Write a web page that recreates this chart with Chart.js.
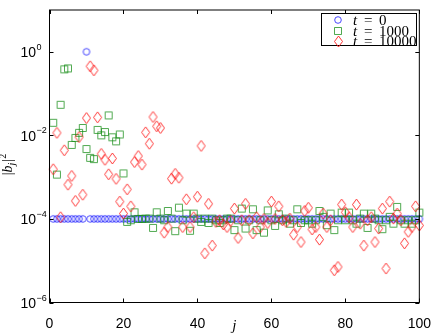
<!DOCTYPE html>
<html>
<head>
<meta charset="utf-8">
<script src="https://cdn.jsdelivr.net/npm/chart.js@4.4.1/dist/chart.umd.min.js"></script>
<style>
  html, body { margin: 0; padding: 0; background: #fff; }
  #wrap { width: 436px; height: 336px; }
</style>
</head>
<body>
<div id="wrap"><canvas id="chart" width="436" height="336"></canvas></div>
<script>
// mode index j
const jIndex = Array.from({ length: 100 }, (_, i) => i + 1);

// |b_j|^2 at t = 0
const t0 = [
  1e-4, 1e-4, 1e-4, 1e-4, 1e-4, 1e-4, 1e-4, 1e-4, 1e-4, 1,
  1e-4, 1e-4, 1e-4, 1e-4, 1e-4, 1e-4, 1e-4, 1e-4, 1e-4, 1e-4,
  1e-4, 1e-4, 1e-4, 1e-4, 1e-4, 1e-4, 1e-4, 1e-4, 1e-4, 1e-4,
  1e-4, 1e-4, 1e-4, 1e-4, 1e-4, 1e-4, 1e-4, 1e-4, 1e-4, 1e-4,
  1e-4, 1e-4, 1e-4, 1e-4, 1e-4, 1e-4, 1e-4, 1e-4, 1e-4, 1e-4,
  1e-4, 1e-4, 1e-4, 1e-4, 1e-4, 1e-4, 1e-4, 1e-4, 1e-4, 1e-4,
  1e-4, 1e-4, 1e-4, 1e-4, 1e-4, 1e-4, 1e-4, 1e-4, 1e-4, 1e-4,
  1e-4, 1e-4, 1e-4, 1e-4, 1e-4, 1e-4, 1e-4, 1e-4, 1e-4, 1e-4,
  1e-4, 1e-4, 1e-4, 1e-4, 1e-4, 1e-4, 1e-4, 1e-4, 1e-4, 1e-4,
  1e-4, 1e-4, 1e-4, 1e-4, 1e-4, 1e-4, 1e-4, 1e-4, 1e-4, 1e-4
];

// t = 1000
const t1000 = [
  2.0e-2, 1.15e-3, 5.4e-2, 0.38, 0.40, 5.9e-3, 8.7e-3, 1.15e-2, 1.5e-2, 4.7e-3,
  2.9e-3, 2.7e-3, 1.35e-2, 1.0e-2, 1.2e-2, 3.0e-2, 9.0e-3, 7.2e-3, 1.05e-2, 1.23e-3,
  8.5e-5, 9.3e-5, 1.44e-4, 1.0e-4, 1.0e-4, 1.02e-4, 1.02e-4, 6.1e-5, 1.44e-4, 1.02e-4,
  9.3e-5, 1.55e-4, 1.02e-4, 5.1e-5, 1.86e-4, 9.3e-5, 1.34e-4, 5.2e-5, 1.34e-4, 1.02e-4,
  8.5e-5, 1.02e-4, 8.0e-5, 1.02e-4, 9.3e-5, 8.0e-5, 9.3e-5, 1.02e-4, 1.02e-4, 5.4e-5,
  9.3e-5, 1.77e-4, 5.9e-5, 9.3e-5, 1.7e-4, 5.4e-5, 9.3e-5, 4.7e-5, 1.6e-4, 9.3e-5,
  6.8e-5, 1.29e-4, 9.3e-5, 1.02e-4, 7.7e-5, 9.3e-5, 1.7e-4, 8.0e-5, 9.3e-5, 9.3e-5,
  7.7e-5, 9.3e-5, 1.55e-4, 1.12e-4, 7.1e-5, 1.34e-4, 5.4e-5, 9.3e-5, 1.42e-4, 9.3e-5,
  1.42e-4, 9.3e-5, 7.7e-5, 1.02e-4, 1.34e-4, 6.1e-5, 1.34e-4, 1.02e-4, 9.3e-5, 5.7e-5,
  9.3e-5, 1.12e-4, 7.7e-5, 1.94e-4, 9.3e-5, 7.7e-5, 9.3e-5, 7.7e-5, 9.3e-5, 1.42e-4
];

// t = 10000
const t10000 = [
  1.55e-3, 1.15e-2, 1.1e-4, 4.4e-3, 6.6e-4, 1.07e-3, 2.7e-4, 9.1e-3, 3.8e-4, 2.6e-2,
  0.45, 0.36, 2.7e-2, 3.6e-3, 2.6e-3, 1.17e-3, 2.8e-3, 9.1e-4, 2.6e-4, 1.34e-4,
  5.1e-4, 2.0e-4, 2.3e-3, 3.2e-3, 2.0e-3, 1.18e-2, 6.3e-3, 2.75e-2, 1.65e-2, 1.5e-2,
  4.7e-5, 6.4e-5, 9.2e-4, 1.2e-3, 9.7e-4, 6.4e-5, 2.95e-4, 6.4e-5, 1.1e-4, 3.4e-4,
  5.6e-3, 1.5e-5, 2.3e-4, 2.3e-5, 8.5e-5, 9.3e-5, 7.4e-5, 6.4e-5, 9.0e-5, 1.77e-4,
  3.5e-5, 9.3e-5, 2.3e-4, 9.3e-5, 4.5e-5, 1.1e-4, 6.4e-5, 1.0e-4, 8.0e-5, 2.6e-4,
  1.0e-4, 2.0e-4, 9.3e-5, 8.5e-5, 1.02e-4, 4.2e-5, 6.4e-5, 2.8e-5, 1.55e-4, 1.85e-4,
  5.6e-5, 6.4e-5, 3.2e-5, 1.34e-4, 6.4e-5, 9.3e-5, 5.9e-6, 7.1e-6, 2.2e-4, 1.44e-4,
  1.1e-4, 6.4e-5, 2.2e-4, 7.7e-5, 2.3e-5, 9.3e-5, 1.1e-4, 2.8e-5, 5.9e-5, 1.77e-4,
  6.5e-6, 2.6e-4, 1.02e-4, 1.34e-4, 9.3e-5, 2.6e-5, 4.9e-5, 6.4e-5, 2.0e-4, 7.0e-5
];

const seriesNames = ['0', '1000', '10000'];
const xTicks = [0, 20, 40, 60, 80, 100];
const yTicks = [1e-6, 1e-4, 1e-2, 1];
const yTickExp = ['-6', '-4', '-2', '0'];

// marker pictures, drawn once
const makeMarker = (kind, color) => {
  const c = document.createElement('canvas');
  const g = c.getContext('2d');
  if (kind === 'diamond') { c.width = 11; c.height = 13; } else { c.width = 10; c.height = 10; }
  g.strokeStyle = color;
  g.lineWidth = 1;
  g.beginPath();
  if (kind === 'circle') {
    g.arc(5, 5, 3.3, 0, Math.PI * 2);
  } else if (kind === 'square') {
    g.rect(1.5, 1.5, 7, 7);
  } else {
    g.moveTo(5.5, 1); g.lineTo(9.5, 6.5); g.lineTo(5.5, 12); g.lineTo(1.5, 6.5); g.closePath();
  }
  g.stroke();
  return c;
};

const markers = [
  makeMarker('circle', 'rgba(40,40,255,0.85)'),
  makeMarker('square', 'rgba(20,140,20,0.75)'),
  makeMarker('diamond', 'rgba(255,20,20,0.85)')
];

const toPoints = values => jIndex.map((j, i) => ({ x: j, y: values[i] }));

const framePlugin = {
  id: 'frame',
  afterDatasetsDraw(chart) {
    const { ctx, chartArea: a, scales: { x, y } } = chart;
    ctx.save();
    ctx.strokeStyle = '#000';
    ctx.lineWidth = 1;
    ctx.strokeRect(a.left, a.top, a.right - a.left, a.bottom - a.top);
    ctx.beginPath();
    xTicks.forEach(v => {
      const px = Math.round(x.getPixelForValue(v)) + 0.5;
      ctx.moveTo(px, a.bottom); ctx.lineTo(px, a.bottom - 4);
      ctx.moveTo(px, a.top); ctx.lineTo(px, a.top + 4);
    });
    yTicks.forEach(v => {
      const py = Math.round(y.getPixelForValue(v)) + 0.5;
      ctx.moveTo(a.left, py); ctx.lineTo(a.left + 4, py);
      ctx.moveTo(a.right, py); ctx.lineTo(a.right - 4, py);
    });
    ctx.stroke();

    // y tick labels with exponents
    ctx.fillStyle = '#000';
    ctx.textBaseline = 'alphabetic';
    yTicks.forEach((v, i) => {
      const py = y.getPixelForValue(v);
      ctx.font = '14px "Liberation Sans", Arial, sans-serif';
      ctx.textAlign = 'right';
      ctx.fillText('10', 36, py + 5.5);
      ctx.font = '9px "Liberation Sans", Arial, sans-serif';
      ctx.textAlign = 'left';
      ctx.fillText(yTickExp[i].replace('-', '\u2212'), 36.5, py - 2);
    });

    // y axis title |b_j|^2
    ctx.save();
    ctx.translate(12, (a.top + a.bottom) / 2 + 19);
    ctx.rotate(-Math.PI / 2);
    ctx.textAlign = 'left';
    let cx = 0;
    const put = (txt, font, dy) => {
      ctx.font = font;
      ctx.fillText(txt, cx, dy);
      cx += ctx.measureText(txt).width;
    };
    put('|', '14px "Liberation Serif", serif', 0);
    put('b', 'italic 14px "Liberation Serif", serif', 0);
    put('j', 'italic 10px "Liberation Serif", serif', 3);
    cx += 1;
    put('|', '14px "Liberation Serif", serif', 0);
    put('2', '10px "Liberation Serif", serif', -6);
    ctx.restore();

    // legend box
    const bx = 321.5, by = 13.5, bw = 95, bh = 32;
    ctx.fillStyle = '#fff';
    ctx.fillRect(bx, by, bw, bh);
    ctx.strokeRect(bx, by, bw, bh);
    const rows = [20, 30.5, 41];
    rows.forEach((ry, i) => {
      const m = markers[i];
      ctx.drawImage(m, Math.round(338 - m.width / 2), Math.round(ry - m.height / 2));
      ctx.fillStyle = '#000';
      ctx.textAlign = 'left';
      ctx.font = 'italic 15px "Liberation Serif", serif';
      ctx.fillText('t', 353, ry + 5);
      ctx.font = '15px "Liberation Serif", serif';
      ctx.fillText('=', 364, ry + 5);
      ctx.fillText(seriesNames[i], 379, ry + 5);
    });
    ctx.restore();
  }
};

const ctx = document.getElementById('chart').getContext('2d');
new Chart(ctx, {
  type: 'scatter',
  data: {
    datasets: [
      { label: 't = ' + seriesNames[0], data: toPoints(t0), pointStyle: markers[0], order: 2, clip: false },
      { label: 't = ' + seriesNames[1], data: toPoints(t1000), pointStyle: markers[1], order: 1, clip: false },
      { label: 't = ' + seriesNames[2], data: toPoints(t10000), pointStyle: markers[2], order: 0, clip: false }
    ]
  },
  options: {
    responsive: false,
    animation: false,
    events: [],
    layout: { padding: { top: 10, right: 15, left: 0, bottom: 0 } },
    plugins: {
      legend: { display: false },
      tooltip: { enabled: false }
    },
    scales: {
      x: {
        type: 'linear',
        min: 0,
        max: 100,
        grid: { display: false },
        border: { display: false },
        afterBuildTicks: scale => { scale.ticks = xTicks.map(v => ({ value: v })); },
        ticks: {
          padding: 5,
          color: '#000',
          maxRotation: 0,
          font: { family: '"Liberation Sans", Arial, sans-serif', size: 14 }
        },
        title: {
          display: true,
          text: 'j',
          color: '#000',
          font: { family: '"Liberation Serif", serif', style: 'italic', size: 15 },
          padding: { top: 0, bottom: 1 }
        },
        afterFit: scale => { scale.height = 33.5; }
      },
      y: {
        type: 'logarithmic',
        min: 1e-6,
        max: 10,
        grid: { display: false },
        border: { display: false },
        afterBuildTicks: scale => { scale.ticks = yTicks.map(v => ({ value: v })); },
        ticks: { display: false },
        afterFit: scale => { scale.width = 49.5; }
      }
    }
  },
  plugins: [framePlugin]
});
</script>
</body>
</html>
